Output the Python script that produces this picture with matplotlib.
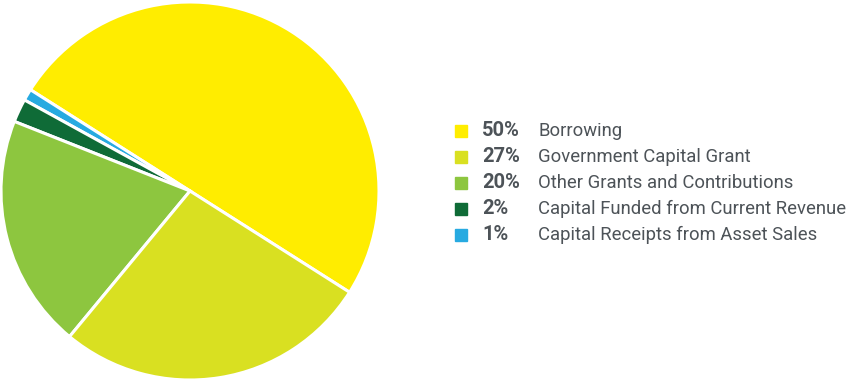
import matplotlib
matplotlib.use("Agg")
import matplotlib.pyplot as plt
from matplotlib.patches import Rectangle

labels = ["Borrowing", "Capital Receipts from Asset Sales",
          "Capital Funded from Current Revenue",
          "Other Grants and Contributions", "Government Capital Grant"]
values = [50, 1, 2, 20, 27]
colors = ["#FFED00", "#27AAE1", "#0F6B37", "#8DC63F", "#D9E021"]

# legend order
legend_order = [0, 4, 3, 2, 1]

W, H = 847, 379
fig = plt.figure(figsize=(W / 100, H / 100), dpi=100)

cx, cy, r = 190, 191, 189
ax = fig.add_axes([(cx - r) / W, (H - cy - r) / H, 2 * r / W, 2 * r / H])
ax.pie(values, colors=colors, startangle=-32.4, counterclock=True,
       wedgeprops=dict(edgecolor="white", linewidth=2.2))
ax.set_aspect("equal")
ax.set_xlim(-1, 1)
ax.set_ylim(-1, 1)
ax.axis("off")

txt_color = "#4D5358"
y0, dy = 131, 26
for row, i in enumerate(legend_order):
    yc = y0 + row * dy
    fig.patches.append(Rectangle((455 / W, (H - yc - 6) / H), 12 / W, 12 / H,
                                 transform=fig.transFigure, color=colors[i]))
    fig.text(482 / W, (H - yc) / H, f"{values[i]}%", fontsize=14.5,
             fontweight="bold", color=txt_color, va="center", ha="left",
             family="Roboto")
    fig.text(538 / W, (H - yc) / H, labels[i], fontsize=13.3,
             color=txt_color, va="center", ha="left", family="Roboto")

fig.savefig("out.png", dpi=100)
